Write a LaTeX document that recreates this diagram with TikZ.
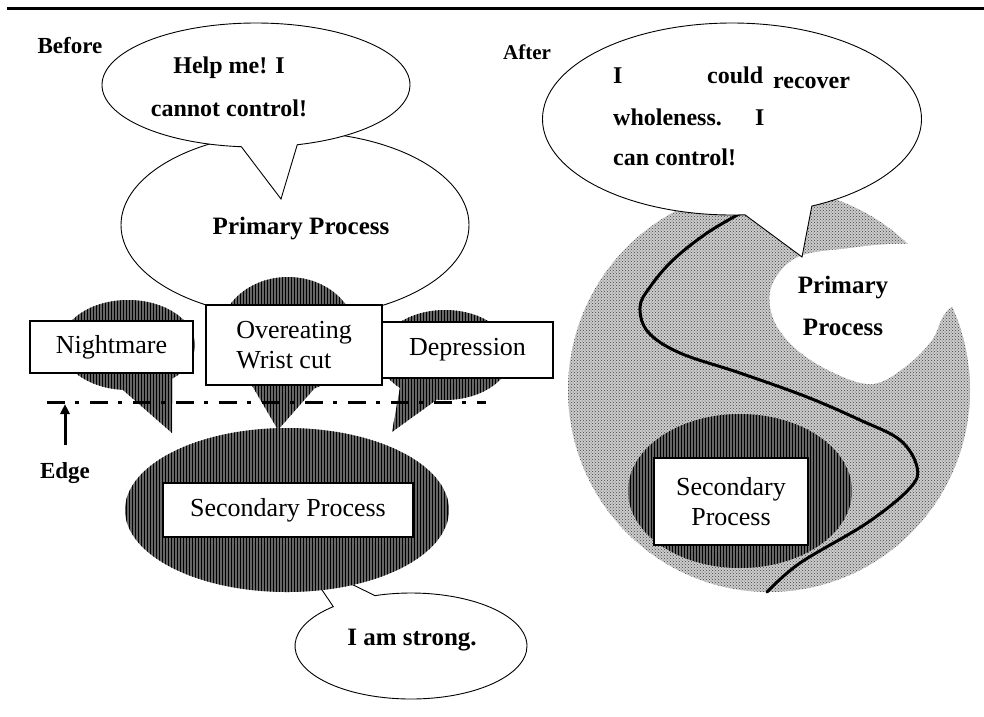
\documentclass[tikz,border=0pt]{standalone}
\usepackage{fontspec}
\setmainfont{Liberation Serif}
\usepackage{tikz}
\usetikzlibrary{positioning}
\usetikzlibrary{arrows.meta}
\usetikzlibrary{shapes.geometric,shapes.callouts}
\usetikzlibrary{patterns}

\begin{document}
\begin{tikzpicture}[x=1pt,y=-1pt]
\tikzset{bubble/.style={ellipse callout, draw, line width=0.9pt, fill=white, inner sep=0pt, outer sep=0pt}}
\tikzset{hatch/.style={fill=black!60, postaction={pattern=vertical lines, pattern color=black}}}
\tikzset{stipple/.style={fill=black!20, postaction={pattern=crosshatch dots, pattern color=black!75}}}
\tikzset{procbox/.style={rectangle, draw, line width=1.3pt, fill=white, inner sep=0pt, align=center, font=\fontsize{26}{30}\selectfont}}
\tikzset{talk/.style={font=\bfseries\fontsize{24}{43}\selectfont, align=center, inner sep=0pt}}
\tikzset{heading/.style={font=\bfseries\fontsize{23}{27}\selectfont, inner sep=0pt}}
\tikzset{edgearrow/.style={line width=3pt, -{Triangle[length=10pt,width=9pt]}}}
\useasboundingbox (0,0) rectangle (984,716);
\draw[line width=3pt] (7,8) -- (984,8);

% before
\node[heading] (before) at (70,46) {Before};
\node[ellipse, draw, line width=0.9pt, fill=white, minimum width=348, minimum height=186] (primary) at (295,225) {};
\node[bubble, minimum width=308, minimum height=124, callout absolute pointer={(281,199)}, callout pointer arc=21] (helpbubble) at (256,85) {};
\node[talk] (helptext) at (229,87) {Help me! I\\cannot control!};
\node[talk, font=\bfseries\fontsize{25}{30}\selectfont] (primarytext) at (301,229) {Primary Process};
\node[ellipse callout, hatch, minimum width=134, minimum height=90, callout absolute pointer={(172,433)}, callout pointer arc=46] (nightblob) at (128,345) {};
\node[ellipse callout, hatch, minimum width=136, minimum height=116, callout absolute pointer={(278,430)}, callout pointer arc=56] (eatblob) at (288,335) {};
\node[ellipse callout, hatch, minimum width=132, minimum height=90, callout absolute pointer={(392,432)}, callout pointer arc=36] (depblob) at (445,355) {};
\coordinate (edgeleft) at (47,402);
\coordinate (edgeright) at (486,402);
\draw[line width=3pt, dash pattern=on 18pt off 10pt on 4pt off 11pt] (edgeleft) -- (edgeright);
\coordinate (edgetip) at (65,404);
\node[heading] (edge) at (65,473) {Edge};
\draw[edgearrow, shorten <=17pt] (edge.north) -- (edgetip);
\node[bubble, minimum width=232, minimum height=106, callout absolute pointer={(302,560)}, callout pointer arc=24] (strongbubble) at (411,646) {};
\node[talk, font=\bfseries\fontsize{25}{30}\selectfont] (strongtext) at (412,640) {I am strong.};
\node[ellipse, hatch, minimum width=324, minimum height=164] (secblob) at (287,510) {};
\node[procbox, minimum width=163, minimum height=52] (nightmare) at (111.5,347) {Nightmare};
\node[procbox, minimum width=176, minimum height=80, align=left] (overeat) at (294,345) {Overeating\\Wrist cut};
\node[procbox, minimum width=171, minimum height=56] (depression) at (467.5,350) {Depression};
\node[procbox, minimum width=250, minimum height=54] (secondary) at (288,510) {Secondary Process};

% after
\node[heading, font=\bfseries\fontsize{21}{25}\selectfont] (after) at (527,52) {After};
\node[ellipse, stipple, minimum width=402, minimum height=404] (whole) at (769,390) {};
\fill[white] plot[smooth cycle, tension=0.6] coordinates {(798,257) (772,285) (773,318) (795,348) (832,372) (872,384) (905,367) (932,340) (946,312) (980,280) (935,248) (895,244) (850,248)};
\node[ellipse, hatch, minimum width=224, minimum height=154] (secblobr) at (740,491) {};
\draw[line width=3pt, line cap=round] plot[smooth, tension=0.6] coordinates {(741,213) (707,233) (673,260) (650,287) (640,307) (648,332) (680,353) (740,373) (807,397) (860,420) (900,440) (917,467) (910,488) (867,523) (800,563) (767,592)};
\node[procbox, minimum width=154, minimum height=87] (secondaryr) at (731,501.5) {Secondary\\Process};
\node[bubble, minimum width=379, minimum height=192, callout absolute pointer={(802,257)}, callout pointer arc=21] (wholebubble) at (732,119) {};
\node[talk, anchor=base west] (w1) at (613,83) {I};
\node[talk, anchor=base west] (w2) at (707,83) {could};
\node[talk, anchor=base west] (w3) at (773,88) {recover};
\node[talk, anchor=base west] (w4) at (613,125) {wholeness.};
\node[talk, anchor=base west] (w5) at (755,125) {I};
\node[talk, anchor=base west] (w6) at (613,165) {can control!};
\node[talk, font=\bfseries\fontsize{25}{42}\selectfont] (primaryr) at (843,306) {Primary\\Process};
\end{tikzpicture}
\end{document}
